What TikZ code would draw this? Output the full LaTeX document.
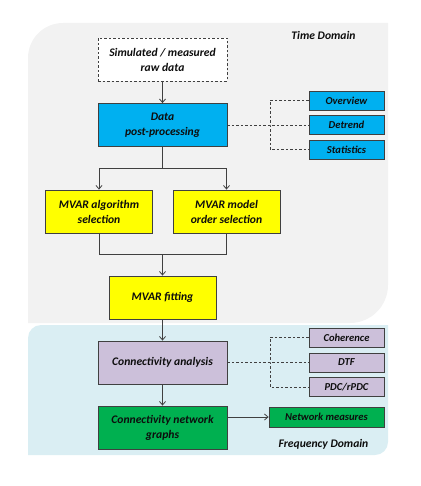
\documentclass[tikz,border=0pt]{standalone}
\usepackage{fontspec}
\setmainfont{Carlito}
\usetikzlibrary{arrows.meta}
\definecolor{timebg}{HTML}{F2F2F2}
\definecolor{freqbg}{HTML}{DAEEF3}
\definecolor{cyanbox}{HTML}{00B0F0}
\definecolor{yelbox}{HTML}{FFFF00}
\definecolor{lavbox}{HTML}{CCC0DA}
\definecolor{grnbox}{HTML}{00B050}
\definecolor{edgecol}{HTML}{404040}
\definecolor{txtcol}{HTML}{0D0D0D}
\tikzset{
  base/.style={draw=edgecol, line width=0.8pt, align=center, inner sep=0pt,
    text=txtcol, font=\fontsize{11.6}{15}\selectfont\bfseries\itshape},
  bigbox/.style={base, minimum width=129pt, minimum height=43pt},
  midbox/.style={base, minimum width=107pt, minimum height=43pt},
  smallbox/.style={base, minimum width=75pt, minimum height=19pt,
    font=\fontsize{10.6}{12}\selectfont\bfseries\itshape},
  conn/.style={draw=edgecol, line width=0.8pt},
  arr/.style={conn, -{Straight Barb[length=3.5pt,width=6pt]}},
  dconn/.style={draw=edgecol, line width=0.8pt, dash pattern=on 2.5pt off 2pt},
  domlabel/.style={text=txtcol, font=\fontsize{11.6}{13}\selectfont\bfseries\itshape}
}
\begin{document}
\begin{tikzpicture}[x=1pt,y=-1pt]
\useasboundingbox (0,0) rectangle (420,486);
% backgrounds
\fill[timebg] (28,323) [rounded corners=35pt] -- (28,23) [sharp corners] -- (388,23)
  [rounded corners=38pt] -- (388,323) [sharp corners] -- cycle;
\fill[freqbg] (28,455) [rounded corners=13pt] -- (28,325) [sharp corners] -- (388,325)
  [rounded corners=13pt] -- (388,455) [sharp corners] -- cycle;
\node[domlabel] (td) at (323.5,35) {Time Domain};
\node[domlabel] (fd) at (323.5,444) {Frequency Domain};
% main nodes
\node[bigbox, fill=white, dash pattern=on 2.5pt off 2pt] (raw) at (162.5,59.5) {Simulated / measured\\raw data};
\node[bigbox, fill=cyanbox] (pp) at (162.5,125) {Data\\post-processing};
\node[midbox, fill=yelbox] (alg) at (99,211.5) {MVAR algorithm\\selection};
\node[midbox, fill=yelbox] (ord) at (226.5,211.5) {MVAR model\\order selection};
\node[midbox, fill=yelbox] (fit) at (162.5,297.5) {MVAR fitting};
\node[bigbox, fill=lavbox] (ca) at (162.5,362.5) {Connectivity analysis};
\node[bigbox, fill=grnbox] (cng) at (162.5,427.5) {Connectivity network\\graphs};
% side nodes
\node[smallbox, fill=cyanbox] (ov) at (346.5,100.5) {Overview};
\node[smallbox, fill=cyanbox] (dt) at (346.5,125) {Detrend};
\node[smallbox, fill=cyanbox] (st) at (346.5,149.5) {Statistics};
\node[smallbox, fill=lavbox] (coh) at (346.5,337.5) {Coherence};
\node[smallbox, fill=lavbox] (dtf) at (346.5,362.5) {DTF};
\node[smallbox, fill=lavbox] (pdc) at (346.5,387) {PDC/rPDC};
\node[smallbox, fill=grnbox, minimum width=115pt, minimum height=20pt] (nm) at (326.5,417) {Network measures};
% coordinates
\coordinate (split) at (162.5,168);
\coordinate (join) at (162.5,254);
% connectors
\draw[arr] (raw) -- (pp);
\draw[conn] (pp) -- (split);
\draw[arr] (split) -| (alg.north);
\draw[arr] (split) -| (ord.north);
\draw[conn] (alg.south) |- (join);
\draw[conn] (ord.south) |- (join);
\draw[arr] (join) -- (fit);
\draw[arr] (fit) -- (ca);
\draw[arr] (ca) -- (cng);
\draw[arr] (cng.east |- nm.west) -- (nm.west);
% dashed connectors
\draw[dconn] (pp.east) -- (dt.west);
\draw[dconn] (ov.west) -| (270,125) |- (st.west);
\draw[dconn] (ca.east) -- (dtf.west);
\draw[dconn] (coh.west) -| (270,362.5) |- (pdc.west);
\end{tikzpicture}
\end{document}
